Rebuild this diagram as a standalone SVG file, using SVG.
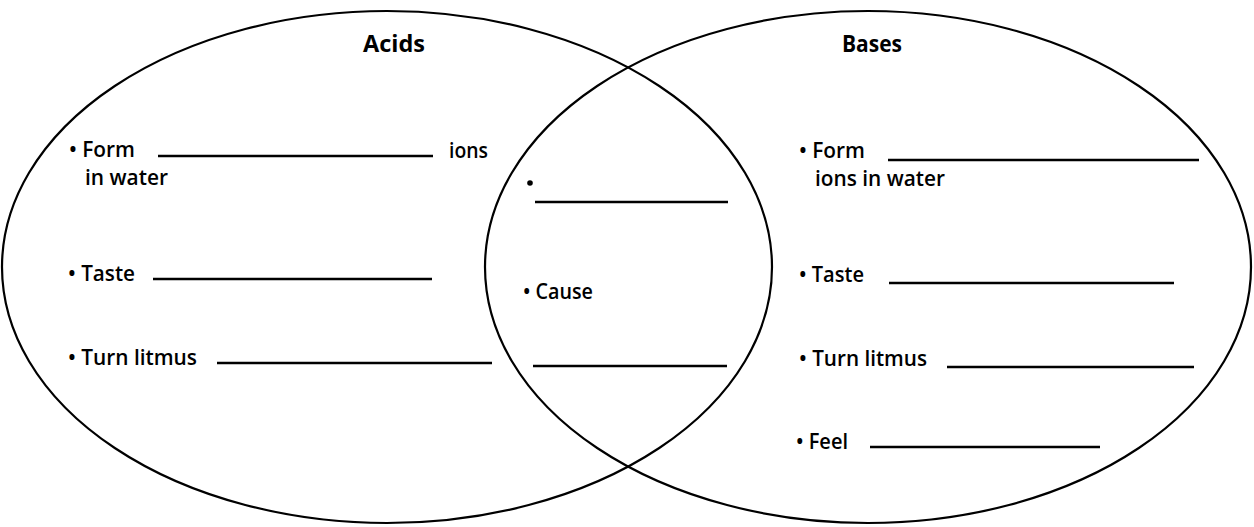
<svg xmlns="http://www.w3.org/2000/svg" width="1254" height="527" viewBox="0 0 1254 527">
<style>
.c{fill:none;stroke:#000;stroke-width:2.2}
.b{fill:none;stroke:#000;stroke-width:2.4}
.h{font-family:"Open Sans","Liberation Sans",sans-serif;font-weight:700;font-size:23px;fill:#000}
.t{font-family:"Open Sans","Liberation Sans",sans-serif;font-weight:600;font-size:21px;fill:#000}
</style>
<rect width="1254" height="527" fill="#fff"/>
<g id="acids">
<ellipse class="c" cx="387" cy="267" rx="385" ry="256"/>
<text class="h" x="363" y="52" textLength="62" lengthAdjust="spacingAndGlyphs">Acids</text>
<text class="t" x="69" y="157" textLength="66" lengthAdjust="spacingAndGlyphs">• Form</text>
<text class="t" x="85" y="185" textLength="83" lengthAdjust="spacingAndGlyphs">in water</text>
<text class="t" x="449" y="158" textLength="39" lengthAdjust="spacingAndGlyphs">ions</text>
<text class="t" x="68" y="281" textLength="67" lengthAdjust="spacingAndGlyphs">• Taste</text>
<text class="t" x="68" y="365" textLength="129" lengthAdjust="spacingAndGlyphs">• Turn litmus</text>
</g>
<g id="bases">
<ellipse class="c" cx="868" cy="267" rx="383" ry="256"/>
<text class="h" x="842" y="52" textLength="60" lengthAdjust="spacingAndGlyphs">Bases</text>
<text class="t" x="799" y="158" textLength="66" lengthAdjust="spacingAndGlyphs">• Form</text>
<text class="t" x="815" y="186" textLength="130" lengthAdjust="spacingAndGlyphs">ions in water</text>
<text class="t" x="799" y="282" textLength="65" lengthAdjust="spacingAndGlyphs">• Taste</text>
<text class="t" x="799" y="366" textLength="128" lengthAdjust="spacingAndGlyphs">• Turn litmus</text>
<text class="t" x="796" y="449" textLength="52" lengthAdjust="spacingAndGlyphs">• Feel</text>
</g>
<g id="both">
<circle cx="530" cy="183" r="2.8" fill="#000"/>
<text class="t" x="523" y="299" textLength="70" lengthAdjust="spacingAndGlyphs">• Cause</text>
</g>
<g id="blanks">
<line class="b" x1="158" y1="156" x2="433" y2="156"/>
<line class="b" x1="153" y1="279" x2="432" y2="279"/>
<line class="b" x1="217" y1="363" x2="492" y2="363"/>
<line class="b" x1="535" y1="202" x2="728" y2="202"/>
<line class="b" x1="533" y1="366" x2="727" y2="366"/>
<line class="b" x1="888" y1="160" x2="1199" y2="160"/>
<line class="b" x1="889" y1="283" x2="1174" y2="283"/>
<line class="b" x1="947" y1="367" x2="1194" y2="367"/>
<line class="b" x1="870" y1="447" x2="1100" y2="447"/>
</g>
</svg>
